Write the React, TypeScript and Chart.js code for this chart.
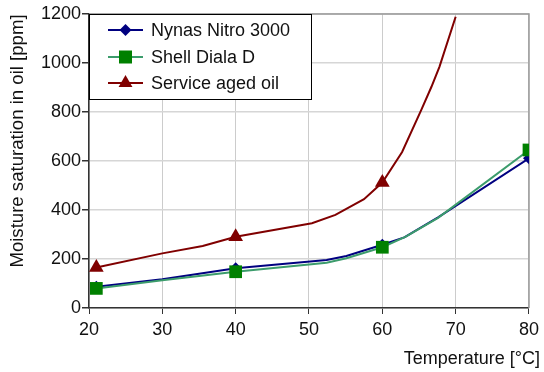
import React, { useEffect, useRef } from "react";
import { Chart, registerables } from "chart.js";

Chart.register(...registerables);

// ---- data ----
const xTicks = [20, 30, 40, 50, 60, 70, 80];
const yTicks = [0, 200, 400, 600, 800, 1000, 1200];

const nynasT = [21, 30, 40, 52.4, 55.1, 60, 63, 67.6, 80];
const nynasPpm = [87, 117, 162, 196, 212, 258, 288, 370, 611];
const nynasMarker = [1, 0, 1, 0, 0, 1, 0, 0, 1];

const dialaT = [21, 30, 40, 52.4, 55.1, 60, 63.2, 67.6, 80];
const dialaPpm = [80, 113, 148, 185, 203, 248, 291, 368, 645];
const dialaMarker = [1, 0, 1, 0, 0, 1, 0, 0, 1];

const agedT = [21, 30, 35.5, 40, 50.4, 53.6, 57.5, 60, 62.7, 65.3, 66.7, 67.8, 70];
const agedPpm = [165, 223, 253, 291, 346, 380, 444, 512, 637, 808, 903, 985, 1189];
const agedMarker = [1, 0, 0, 1, 0, 0, 0, 1, 0, 0, 0, 0, 0];

const seriesNames = ["Nynas Nitro 3000", "Shell Diala D", "Service aged oil"];
const xTitle = "Temperature [°C]";
const yTitle = "Moisture saturation in oil [ppm]";

const FONT = "'Liberation Sans', Arial, sans-serif";

const BLUE = "#000080";
const GREEN_LINE = "#3c9c6c";
const GREEN_MARK = "#008000";
const RED = "#800000";

function toPoints(xs: number[], ys: number[]) {
  return xs.map((x, i) => ({ x, y: ys[i] }));
}

function drawMarker(ctx: CanvasRenderingContext2D, style: string, x: number, y: number, color: string) {
  ctx.save();
  ctx.fillStyle = color;
  ctx.beginPath();
  if (style === "diamond") {
    const r = 6;
    ctx.moveTo(x, y - r);
    ctx.lineTo(x + r, y);
    ctx.lineTo(x, y + r);
    ctx.lineTo(x - r, y);
  } else if (style === "square") {
    const s = 6.5;
    ctx.rect(x - s, y - s, 2 * s, 2 * s);
  } else {
    const r = 8;
    ctx.moveTo(x, y - r);
    ctx.lineTo(x + r * 0.866, y + r * 0.5);
    ctx.lineTo(x - r * 0.866, y + r * 0.5);
  }
  ctx.closePath();
  ctx.fill();
  ctx.restore();
}

const decorPlugin = {
  id: "decor",
  beforeDatasetsDraw(chart: any) {
    const { ctx, chartArea } = chart;
    ctx.save();
    ctx.strokeStyle = "#999999";
    ctx.lineWidth = 1.5;
    ctx.beginPath();
    ctx.moveTo(chartArea.left, chartArea.top);
    ctx.lineTo(chartArea.right, chartArea.top);
    ctx.lineTo(chartArea.right, chartArea.bottom);
    ctx.stroke();
    ctx.restore();
  },
  afterDraw(chart: any) {
    const { ctx } = chart;
    ctx.save();
    // axis titles
    ctx.fillStyle = "#111111";
    ctx.font = `18px ${FONT}`;
    ctx.textAlign = "right";
    ctx.textBaseline = "middle";
    ctx.fillText(xTitle, 540, 359);
    ctx.save();
    ctx.translate(18, 141);
    ctx.rotate(-Math.PI / 2);
    ctx.textAlign = "center";
    ctx.font = `18.6px ${FONT}`;
    ctx.fillText(yTitle, 0, 0);
    ctx.restore();

    // legend box
    const bx = 89, by = 14, bw = 222, bh = 85;
    ctx.fillStyle = "#ffffff";
    ctx.fillRect(bx, by, bw, bh);
    ctx.strokeStyle = "#000000";
    ctx.lineWidth = 1;
    ctx.strokeRect(bx + 0.5, by + 0.5, bw, bh);

    const rows = [
      { name: seriesNames[0], line: BLUE, mark: BLUE, style: "diamond", y: 30 },
      { name: seriesNames[1], line: GREEN_LINE, mark: GREEN_MARK, style: "square", y: 57 },
      { name: seriesNames[2], line: RED, mark: RED, style: "triangle", y: 83 },
    ];
    rows.forEach((r) => {
      ctx.strokeStyle = r.line;
      ctx.lineWidth = 2;
      ctx.beginPath();
      ctx.moveTo(108, r.y);
      ctx.lineTo(143, r.y);
      ctx.stroke();
      drawMarker(ctx, r.style, 125.5, r.y, r.mark);
      ctx.fillStyle = "#111111";
      ctx.font = `18px ${FONT}`;
      ctx.textAlign = "left";
      ctx.textBaseline = "middle";
      ctx.fillText(r.name, 151, r.y + 1);
    });
    ctx.restore();
  },
};

export default function App() {
  const canvasRef = useRef<HTMLCanvasElement | null>(null);

  useEffect(() => {
    document.body.style.margin = "0";
    const canvas = canvasRef.current;
    if (!canvas) return;
    const chart = new Chart(canvas, {
      type: "scatter",
      data: {
        datasets: [
          {
            label: seriesNames[0],
            data: toPoints(nynasT, nynasPpm),
            showLine: true,
            borderColor: BLUE,
            backgroundColor: BLUE,
            borderWidth: 2,
            tension: 0,
            pointStyle: "rectRot",
            pointRadius: nynasMarker.map((m) => (m ? 6 : 0)),
            pointBorderWidth: 0,
            order: 3,
          },
          {
            label: seriesNames[1],
            data: toPoints(dialaT, dialaPpm),
            showLine: true,
            borderColor: GREEN_LINE,
            backgroundColor: GREEN_MARK,
            pointBackgroundColor: GREEN_MARK,
            pointBorderColor: GREEN_MARK,
            borderWidth: 2,
            tension: 0,
            pointStyle: "rect",
            pointRadius: dialaMarker.map((m) => (m ? 9 : 0)),
            pointBorderWidth: 0,
            order: 2,
          },
          {
            label: seriesNames[2],
            data: toPoints(agedT, agedPpm),
            showLine: true,
            borderColor: RED,
            backgroundColor: RED,
            borderWidth: 2,
            tension: 0,
            pointStyle: "triangle",
            pointRadius: agedMarker.map((m) => (m ? 8.5 : 0)),
            pointBorderWidth: 0,
            order: 1,
          },
        ],
      },
      options: {
        animation: false,
        responsive: false,
        maintainAspectRatio: false,
        events: [],
        layout: { padding: { left: 0, right: 12, top: 14, bottom: 0 } },
        plugins: {
          legend: { display: false },
          tooltip: { enabled: false },
          title: { display: false },
        },
        scales: {
          x: {
            type: "linear",
            min: 20,
            max: 80,
            afterBuildTicks: (scale: any) => {
              scale.ticks = xTicks.map((v) => ({ value: v }));
            },
            afterFit: (scale: any) => {
              scale.height = 64;
            },
            ticks: {
              color: "#111111",
              font: { family: FONT, size: 18 },
              padding: 5,
              maxRotation: 0,
              autoSkip: false,
              callback: (v: any) => String(v),
            },
            grid: {
              color: "#cccccc",
              lineWidth: 1,
              tickColor: "#333333",
              tickLength: 6,
              drawTicks: true,
            },
            border: { color: "#333333", width: 1.5 },
          },
          y: {
            type: "linear",
            min: 0,
            max: 1200,
            afterBuildTicks: (scale: any) => {
              scale.ticks = yTicks.map((v) => ({ value: v }));
            },
            afterFit: (scale: any) => {
              scale.width = 89;
            },
            ticks: {
              color: "#111111",
              font: { family: FONT, size: 18 },
              padding: 1,
              autoSkip: false,
              callback: (v: any) => String(v),
            },
            grid: {
              color: "#d6d6d6",
              lineWidth: 1.5,
              tickColor: "#333333",
              tickLength: 7,
              drawTicks: true,
            },
            border: { color: "#333333", width: 1.5 },
          },
        },
      },
      plugins: [decorPlugin],
    } as any);
    return () => chart.destroy();
  }, []);

  return (
    <div style={{ width: 544, height: 372, background: "#ffffff" }}>
      <canvas ref={canvasRef} width={544} height={372} style={{ display: "block" }} />
    </div>
  );
}
